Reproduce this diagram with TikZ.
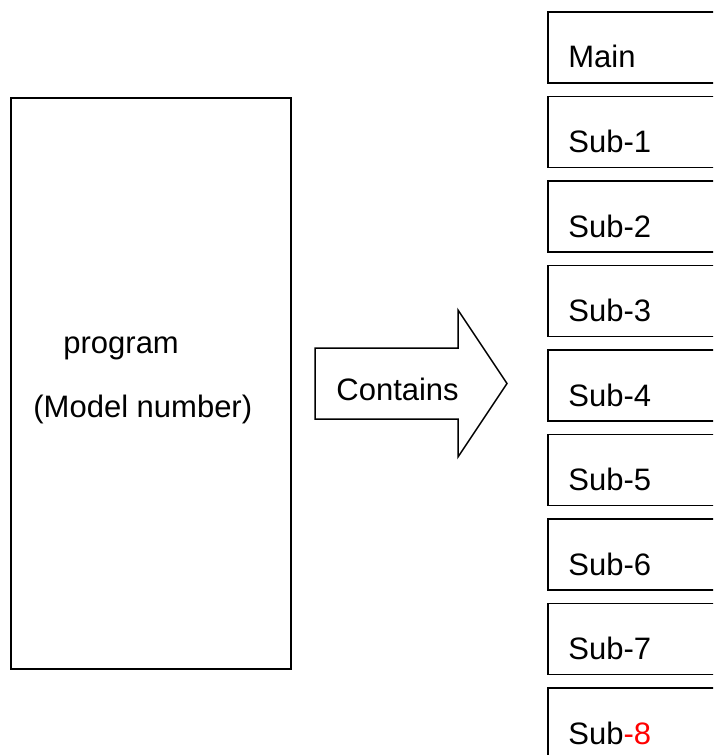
\documentclass[tikz,border=0pt]{standalone}
\usepackage{fontspec}
\setmainfont{Liberation Sans}
\usetikzlibrary{calc}

\tikzset{
	box/.style={draw, line width=0.75pt, minimum width=90pt, minimum height=35.5pt, anchor=north west, inner sep=0pt},
	boxtext/.style={anchor=base west, inner sep=0pt}
}

\begin{document}
\begin{tikzpicture}[x=0.5pt, y=-0.5pt, font=\fontsize{15.5pt}{18pt}\selectfont]
		\clip (0,0) rectangle (713,755);

		% the program box
		\node[box, minimum width=140pt, minimum height=285.5pt] (prog) at (10,97) {};
		\node[boxtext] (progname) at ($(prog.north west)+(53,256)$) {program};
		\node[boxtext] (model) at ($(prog.north west)+(23,320)$) {(Model number)};

		% block arrow
		\draw[line width=0.75pt] (315,348) -- (458,348) -- (458,310) -- (507,383.5)
			-- (458,457) -- (458,419) -- (315,419) -- cycle;
		\node[boxtext] (contains) at (336,400) {Contains};

		% main and sub programs
		\node[box] (main) at (547,11) {};
		\node[boxtext] (mainname) at ($(main.north west)+(21,57)$) {Main};
		\foreach \i in {1,...,7} {
				\node[box] (sub\i) at (547,{11+84.5*\i}) {};
				\node[boxtext] (subname\i) at ($(sub\i.north west)+(21,57)$) {Sub-\i};
			}
		\node[box] (sub8) at (547,687) {};
		\node[boxtext] (subname8) at ($(sub8.north west)+(21,57)$) {Sub\textcolor{red}{-8}};
	\end{tikzpicture}
\end{document}
